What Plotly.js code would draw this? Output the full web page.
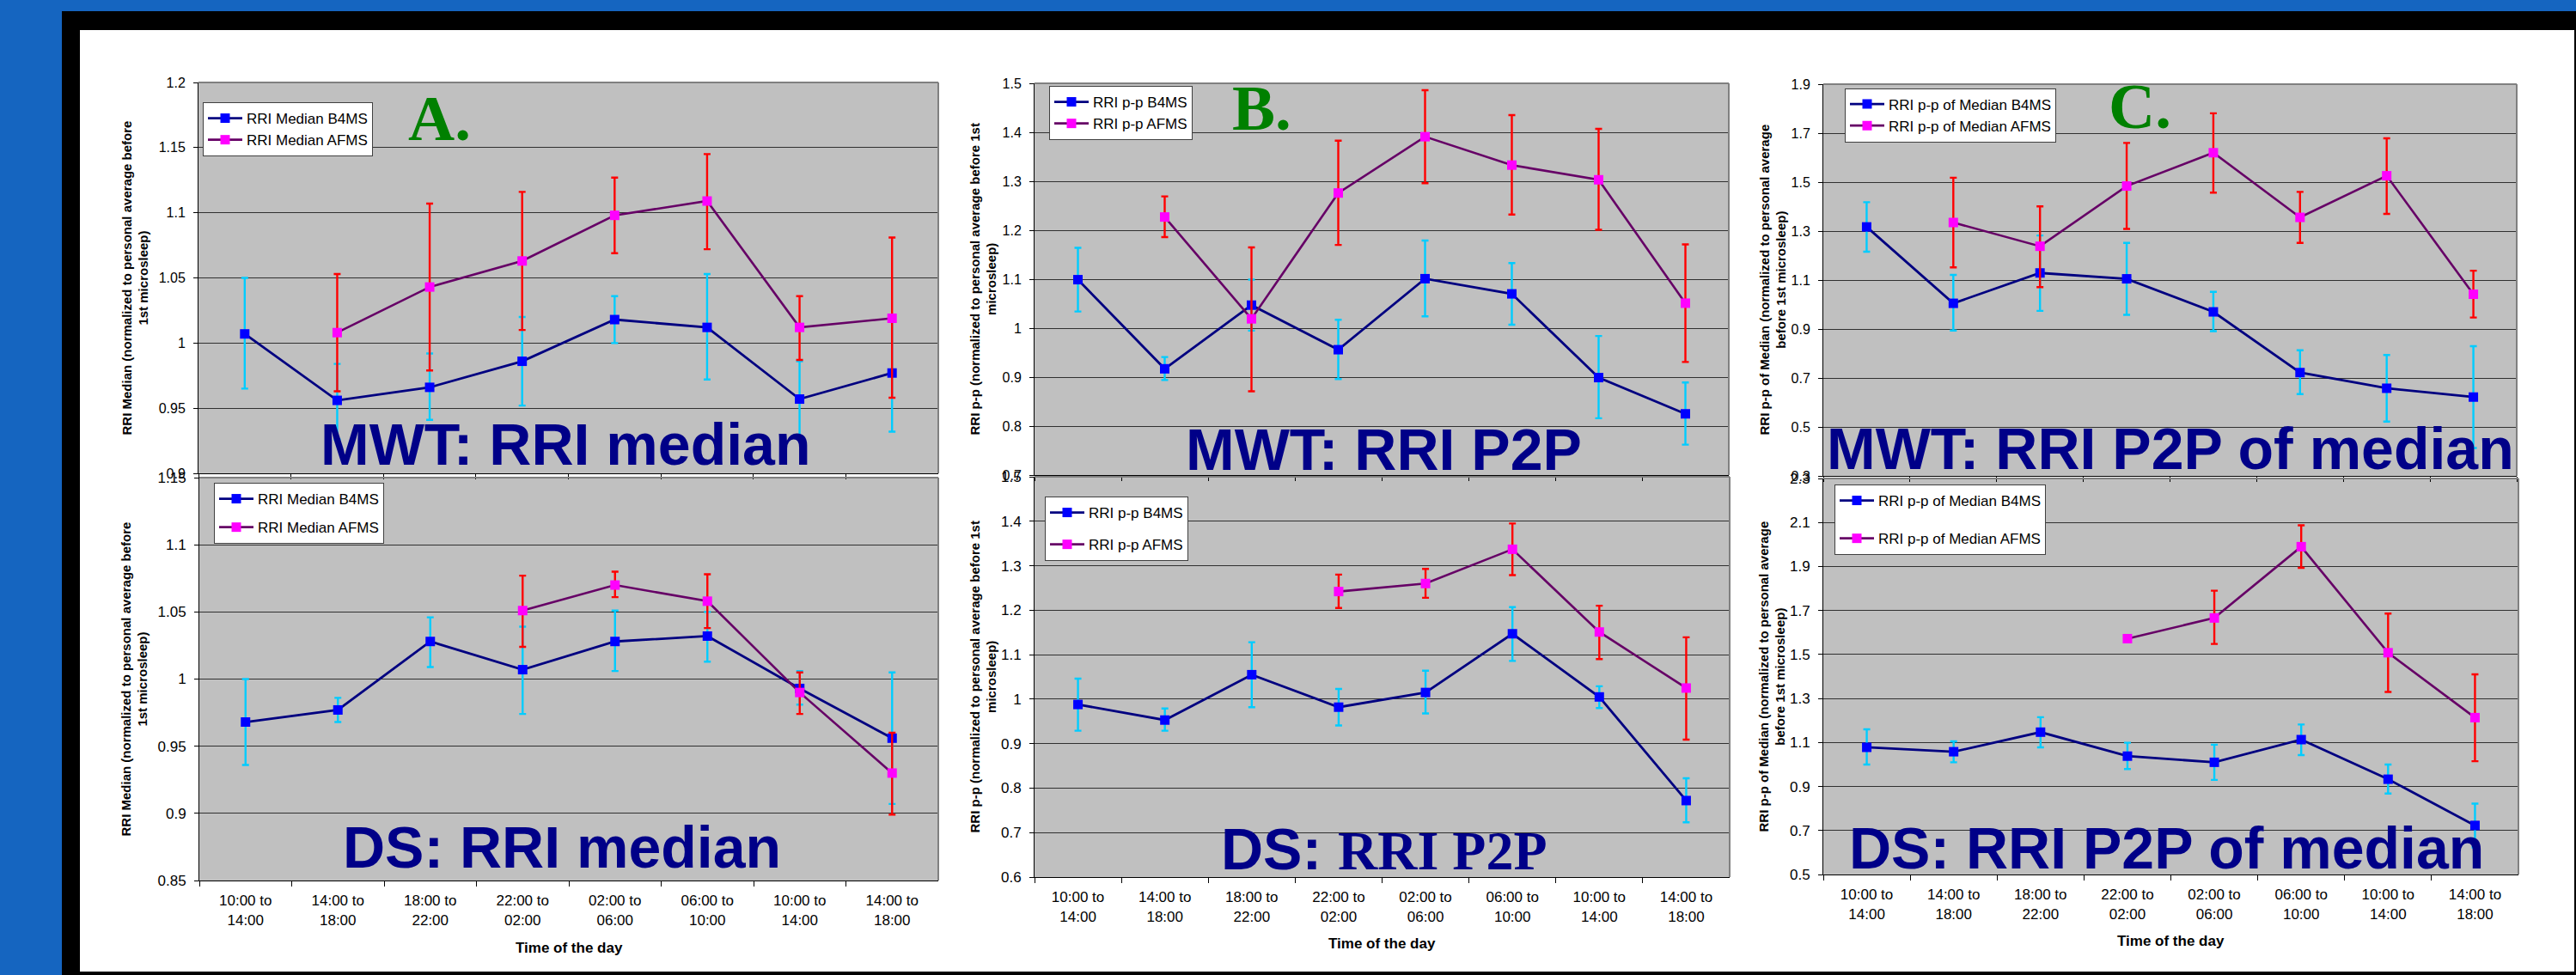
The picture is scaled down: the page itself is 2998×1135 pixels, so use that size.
<!DOCTYPE html>
<html><head><meta charset="utf-8">
<script src="https://cdn.plot.ly/plotly-3.0.1.min.js"></script>
<style>html,body{margin:0;padding:0;background:#fff;}#chart{width:2998px;height:1135px;}</style>
</head><body><div id="chart"></div>
<script>
const W = 2998, H = 1135;

// ---- data ----
const categories = ["10:00 to<br>14:00","14:00 to<br>18:00","18:00 to<br>22:00","22:00 to<br>02:00",
                    "02:00 to<br>06:00","06:00 to<br>10:00","10:00 to<br>14:00","14:00 to<br>18:00"];
// Plotly needs unique category keys; use index keys + ticktext
const catKeys = ["c0","c1","c2","c3","c4","c5","c6","c7"];

// A. MWT: RRI median
const mwtMedB4   = [1.007, 0.956, 0.966, 0.986, 1.018, 1.012, 0.957, 0.977];
const mwtMedB4Hi = [1.050, 0.984, 0.992, 1.020, 1.036, 1.053, 0.986, 1.021];
const mwtMedB4Lo = [0.965, 0.926, 0.941, 0.952, 1.000, 0.972, 0.928, 0.932];
const mwtMedAf   = [null, 1.008, 1.043, 1.063, 1.098, 1.109, 1.012, 1.019];
const mwtMedAfHi = [null, 1.053, 1.107, 1.116, 1.127, 1.145, 1.036, 1.081];
const mwtMedAfLo = [null, 0.963, 0.979, 1.010, 1.069, 1.072, 0.987, 0.958];

// B. MWT: RRI P2P
const mwtP2pB4   = [1.099, 0.917, 1.047, 0.956, 1.101, 1.070, 0.899, 0.825];
const mwtP2pB4Hi = [1.164, 0.941, 1.099, 1.017, 1.179, 1.133, 0.984, 0.889];
const mwtP2pB4Lo = [1.034, 0.894, 0.995, 0.896, 1.024, 1.007, 0.816, 0.762];
const mwtP2pAf   = [null, 1.227, 1.019, 1.276, 1.391, 1.333, 1.303, 1.051];
const mwtP2pAfHi = [null, 1.269, 1.165, 1.383, 1.486, 1.435, 1.407, 1.171];
const mwtP2pAfLo = [null, 1.186, 0.871, 1.170, 1.296, 1.232, 1.201, 0.931];

// C. MWT: RRI P2P of median
const mwtPomB4   = [1.317, 1.005, 1.129, 1.105, 0.970, 0.722, 0.658, 0.622];
const mwtPomB4Hi = [1.418, 1.121, 1.282, 1.252, 1.052, 0.813, 0.794, 0.830];
const mwtPomB4Lo = [1.216, 0.894, 0.974, 0.958, 0.891, 0.634, 0.522, 0.414];
const mwtPomAf   = [null, 1.335, 1.238, 1.484, 1.620, 1.356, 1.526, 1.042];
const mwtPomAfHi = [null, 1.518, 1.401, 1.660, 1.781, 1.460, 1.679, 1.138];
const mwtPomAfLo = [null, 1.152, 1.071, 1.309, 1.457, 1.252, 1.370, 0.947];

// DS: RRI median
const dsMedB4   = [0.968, 0.977, 1.028, 1.007, 1.028, 1.032, 0.993, 0.956];
const dsMedB4Hi = [1.000, 0.986, 1.046, 1.039, 1.051, 1.050, 1.006, 1.005];
const dsMedB4Lo = [0.936, 0.968, 1.009, 0.974, 1.006, 1.013, 0.981, 0.907];
const dsMedAf   = [null, null, null, 1.051, 1.070, 1.058, 0.990, 0.930];
const dsMedAfHi = [null, null, null, 1.077, 1.080, 1.078, 1.005, 0.960];
const dsMedAfLo = [null, null, null, 1.024, 1.061, 1.038, 0.974, 0.899];

// DS: RRI P2P
const dsP2pB4   = [0.988, 0.953, 1.055, 0.982, 1.015, 1.147, 1.005, 0.772];
const dsP2pB4Hi = [1.046, 0.979, 1.128, 1.023, 1.064, 1.207, 1.029, 0.822];
const dsP2pB4Lo = [0.929, 0.929, 0.982, 0.941, 0.968, 1.086, 0.980, 0.723];
const dsP2pAf   = [null, null, null, 1.242, 1.260, 1.337, 1.151, 1.025];
const dsP2pAfHi = [null, null, null, 1.280, 1.293, 1.395, 1.210, 1.139];
const dsP2pAfLo = [null, null, null, 1.205, 1.228, 1.279, 1.090, 0.909];

// DS: RRI P2P of median
const dsPomB4   = [1.078, 1.058, 1.147, 1.038, 1.010, 1.113, 0.933, 0.723];
const dsPomB4Hi = [1.160, 1.105, 1.215, 1.099, 1.090, 1.182, 1.000, 0.822];
const dsPomB4Lo = [1.000, 1.010, 1.078, 0.979, 0.930, 1.043, 0.868, 0.623];
const dsPomAf   = [null, null, null, 1.572, 1.666, 1.990, 1.508, 1.213];
const dsPomAfHi = [null, null, null, null, 1.790, 2.087, 1.686, 1.410];
const dsPomAfLo = [null, null, null, null, 1.548, 1.894, 1.330, 1.015];

const namesMed = ["RRI Median B4MS", "RRI Median AFMS"];
const namesP2p = ["RRI p-p B4MS", "RRI p-p AFMS"];
const namesPom = ["RRI p-p of Median B4MS", "RRI p-p of Median AFMS"];

// ---- layout config (pixel geometry) ----
const SANS = "Liberation Sans, Arial, sans-serif";
const SERIF = "Liberation Serif, Times New Roman, serif";
const panels = [
  {x:[231,1092], y:[96,551], range:[0.9,1.2], dtick:0.05, tf:16,
   b4:[mwtMedB4,mwtMedB4Hi,mwtMedB4Lo], af:[mwtMedAf,mwtMedAfHi,mwtMedAfLo], names:namesMed,
   ytitle:"RRI Median (normalized to personal average before<br>1st microsleep)", ytx:157,
   showX:false, leg:[236,119,0], big:["MWT: RRI median",657.5,517], letter:["A.",512,137]},
  {x:[1204,2012], y:[97,553], range:[0.7,1.5], dtick:0.1, tf:16,
   b4:[mwtP2pB4,mwtP2pB4Hi,mwtP2pB4Lo], af:[mwtP2pAf,mwtP2pAfHi,mwtP2pAfLo], names:namesP2p,
   ytitle:"RRI p-p (normalized to personal average before 1st<br>microsleep)", ytx:1143.5,
   showX:false, leg:[1221,100,0], big:["MWT: RRI P2P",1610.5,522.5], letter:["B.",1468.5,126]},
  {x:[2122,2929], y:[98,554], range:[0.3,1.9], dtick:0.2, tf:16,
   b4:[mwtPomB4,mwtPomB4Hi,mwtPomB4Lo], af:[mwtPomAf,mwtPomAfHi,mwtPomAfLo], names:namesPom,
   ytitle:"RRI p-p of Median (normalized to personal average<br>before 1st microsleep)", ytx:2062.5,
   showX:false, leg:[2147,102.5,0], big:["MWT: RRI P2P of median",2525.5,522], letter:["C.",2490,123.5]},
  {x:[232,1092], y:[556,1025], range:[0.85,1.15], dtick:0.05, tf:17,
   b4:[dsMedB4,dsMedB4Hi,dsMedB4Lo], af:[dsMedAf,dsMedAfHi,dsMedAfLo], names:namesMed,
   ytitle:"RRI Median (normalized to personal average before<br>1st microsleep)", ytx:156,
   showX:true, leg:[249,562,8], big:["DS: RRI median",653.5,986], xt:[662,1103.5]},
  {x:[1204,2013], y:[555,1021], range:[0.6,1.5], dtick:0.1, tf:17,
   b4:[dsP2pB4,dsP2pB4Hi,dsP2pB4Lo], af:[dsP2pAf,dsP2pAfHi,dsP2pAfLo], names:namesP2p,
   ytitle:"RRI p-p (normalized to personal average before 1st<br>microsleep)", ytx:1143.5,
   showX:true, leg:[1216,578,12], big:['DS: <span style="font-family:Liberation Serif, Times New Roman, serif;font-size:64px">RRI P2P</span>',1611,988], xt:[1608.5,1098]},
  {x:[2122,2931], y:[557,1018], range:[0.5,2.3], dtick:0.2, tf:17,
   b4:[dsPomB4,dsPomB4Hi,dsPomB4Lo], af:[dsPomAf,dsPomAfHi,dsPomAfLo], names:namesPom,
   ytitle:"RRI p-p of Median (normalized to personal average<br>before 1st microsleep)", ytx:2062,
   showX:true, leg:[2135,564,19], big:["DS: RRI P2P of median",2521.5,987], xt:[2526,1095]}
];

const px = v => v / W;
const py = v => 1 - v / H;
const errUp = (v, hi) => v.map((d,i) => (d == null || hi[i] == null) ? NaN : +(hi[i] - d).toFixed(4));
const errDn = (v, lo) => v.map((d,i) => (d == null || lo[i] == null) ? NaN : +(d - lo[i]).toFixed(4));

const traces = [], annotations = [], shapes = [];
const layout = {
  width: W, height: H, margin: {l:0, r:0, t:0, b:0, pad:0},
  paper_bgcolor: "#ffffff", plot_bgcolor: "#c0c0c0",
  font: {family: SANS, color: "#000"},
  showlegend: true
};

panels.forEach((p, i) => {
  const n = i + 1;
  const xa = n === 1 ? "x" : "x" + n, ya = n === 1 ? "y" : "y" + n;
  const xk = n === 1 ? "xaxis" : "xaxis" + n, yk = n === 1 ? "yaxis" : "yaxis" + n;
  const lk = n === 1 ? "legend" : "legend" + n;

  const series = [
    {vals:p.b4, name:p.names[0], line:"#000080", marker:"#0000ff", err:"#00ccff", lw:2.8},
    {vals:p.af, name:p.names[1], line:"#660066", marker:"#ff00ff", err:"#ff0000", lw:2.6}
  ];
  series.forEach((s, k) => {
    traces.push({
      type: "scatter", mode: "lines+markers", x: catKeys, y: s.vals[0], name: s.name,
      xaxis: xa, yaxis: ya, legend: lk, legendgroup: "g" + n + "_" + k,
      connectgaps: false, cliponaxis: false,
      line: {color: s.line, width: s.lw},
      marker: {symbol: "square", size: 11, color: s.marker, line: {width: 0}},
      error_y: {type: "data", symmetric: false, array: errUp(s.vals[0], s.vals[1]),
                arrayminus: errDn(s.vals[0], s.vals[2]), color: s.err, thickness: 2.4, width: 4},
      hoverinfo: "skip"
    });
  });

  layout[xk] = {
    domain: [px(p.x[0]), px(p.x[1])], anchor: ya, type: "category",
    categoryorder: "array", categoryarray: catKeys,
    tickvals: catKeys, ticktext: categories, range: [-0.5, 7.5],
    showgrid: false, zeroline: false, showline: true, linecolor: "#000", linewidth: 1,
    ticks: "outside", tickson: "boundaries", ticklen: 6, tickcolor: "#000", tickwidth: 1,
    showticklabels: p.showX, ticklabelstandoff: 8,
    tickfont: {family: SANS, size: 17, color: "#000"}, fixedrange: true
  };
  layout[yk] = {
    domain: [py(p.y[1]), py(p.y[0])], anchor: xa, range: p.range, dtick: p.dtick, tick0: p.range[0],
    showgrid: true, gridcolor: "#303030", gridwidth: 1, zeroline: false,
    showline: true, linecolor: "#000", linewidth: 1,
    ticks: "outside", ticklen: 5, tickcolor: "#000", tickwidth: 1, ticklabelstandoff: 6,
    tickfont: {family: SANS, size: p.tf, color: "#000"}, fixedrange: true
  };
  layout[lk] = {
    x: px(p.leg[0]), y: py(p.leg[1]), xanchor: "left", yanchor: "top",
    bgcolor: "#ffffff", bordercolor: "#404040", borderwidth: 1,
    font: {family: SANS, size: 17, color: "#000"},
    traceorder: "grouped", tracegroupgap: p.leg[2], itemwidth: 40
  };

  // plot-area border (top and right edges, gray like the original)
  shapes.push({type: "line", xref: xa + " domain", yref: ya + " domain", x0: 0, x1: 1, y0: 1, y1: 1,
               line: {color: "#808080", width: 2}, layer: "above"});
  shapes.push({type: "line", xref: xa + " domain", yref: ya + " domain", x0: 1, x1: 1, y0: 0, y1: 1,
               line: {color: "#808080", width: 2}, layer: "above"});

  // y axis title
  annotations.push({xref: "paper", yref: "paper", x: px(p.ytx), y: py((p.y[0] + p.y[1]) / 2),
    text: p.ytitle, textangle: -90, showarrow: false, xanchor: "center", yanchor: "middle",
    font: {family: SANS, size: 15, weight: 700, color: "#000"}});
  // big overlay title
  annotations.push({xref: "paper", yref: "paper", x: px(p.big[1]), y: py(p.big[2]), text: p.big[0],
    showarrow: false, xanchor: "center", yanchor: "middle",
    font: {family: SANS, size: 68, weight: 700, color: "#000088"}});
  if (p.letter) {
    annotations.push({xref: "paper", yref: "paper", x: px(p.letter[1]), y: py(p.letter[2]), text: p.letter[0],
      showarrow: false, xanchor: "center", yanchor: "middle",
      font: {family: SERIF, size: 75, weight: 700, color: "#008000"}});
  }
  if (p.xt) {
    annotations.push({xref: "paper", yref: "paper", x: px(p.xt[0]), y: py(p.xt[1]), text: "Time of the day",
      showarrow: false, xanchor: "center", yanchor: "middle",
      font: {family: SANS, size: 17, weight: 700, color: "#000"}});
  }
});

// slide frame: blue border and black frame strips (outside the plots)
const frame = [
  [0, 72, 0, 1135, "#1565c0"], [72, 2998, 0, 13, "#1565c0"],
  [72, 93, 13, 1135, "#000000"], [93, 2998, 13, 35, "#000000"],
  [2996, 2998, 35, 1135, "#000000"], [93, 2996, 1131, 1135, "#000000"]
];
frame.forEach(f => shapes.push({type: "rect", xref: "paper", yref: "paper",
  x0: px(f[0]), x1: px(f[1]), y0: py(f[3]), y1: py(f[2]), fillcolor: f[4], line: {width: 0}, layer: "above"}));

layout.annotations = annotations;
layout.shapes = shapes;

Plotly.newPlot("chart", traces, layout, {staticPlot: true, displayModeBar: false});
</script>
</body></html>
